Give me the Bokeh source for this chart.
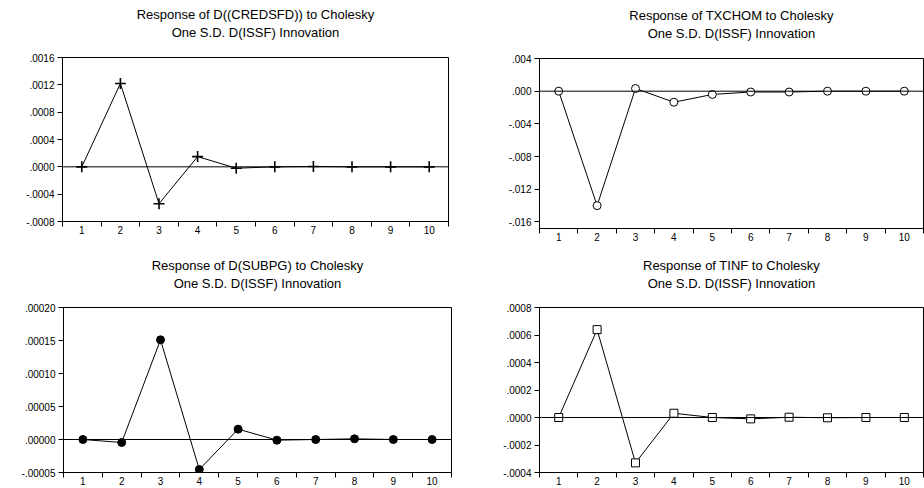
from bokeh.plotting import figure
from bokeh.layouts import column, row
from bokeh.models import FixedTicker, CustomJSTickFormatter, Span, Range1d, Title
from bokeh.embed import file_html
from bokeh.resources import INLINE

periods = [1, 2, 3, 4, 5, 6, 7, 8, 9, 10]
x_tick_labels = ["1", "2", "3", "4", "5", "6", "7", "8", "9", "10"]

# Response of D((CREDSFD))
credsfd = [0.0, 0.00122, -0.00054, 0.00015, -0.00002, 0.0, 0.000005, 0.0, 0.0, 0.0]
credsfd_ticks = [-0.0008, -0.0004, 0.0, 0.0004, 0.0008, 0.0012, 0.0016]
credsfd_labels = ["-.0008", "-.0004", ".0000", ".0004", ".0008", ".0012", ".0016"]

# Response of TXCHOM
txchom = [0.0, -0.0140, 0.00033, -0.00135, -0.0004, -0.0001, -0.0001, 0.0, 0.0, 0.0]
txchom_ticks = [-0.016, -0.012, -0.008, -0.004, 0.0, 0.004]
txchom_labels = ["-.016", "-.012", "-.008", "-.004", ".000", ".004"]

# Response of D(SUBPG)
subpg = [0.0, -0.0000045, 0.000151, -0.0000455, 0.0000157, -0.000001, 0.0, 0.000001, 0.0, 0.0]
subpg_ticks = [-0.00005, 0.0, 0.00005, 0.0001, 0.00015, 0.0002]
subpg_labels = ["-.00005", ".00000", ".00005", ".00010", ".00015", ".00020"]

# Response of TINF
tinf = [0.0, 0.000639, -0.00033, 0.000031, 0.0, -0.00001, 0.000002, -0.000002, 0.0, 0.0]
tinf_ticks = [-0.0004, -0.0002, 0.0, 0.0002, 0.0004, 0.0006, 0.0008]
tinf_labels = ["-.0004", "-.0002", ".0000", ".0002", ".0004", ".0006", ".0008"]

FONT = "Liberation Sans"

def make_panel(title1, title2, ys, yticks, ylabels, yr, marker, fill, borders, gap):
    left, right, top, bottom = borders
    p = figure(width=462, height=244, output_backend="svg", toolbar_location=None,
               x_range=Range1d(0.5, 10.5), y_range=Range1d(*yr),
               min_border_left=left, min_border_right=right,
               min_border_top=top, min_border_bottom=bottom)
    p.title = None
    # blank spacer between frame and the title lines
    p.add_layout(Title(text=" ", align="center", text_font=FONT, text_font_size="13px",
                       standoff=gap), "above")
    p.add_layout(Title(text=title2, align="center", text_font=FONT, text_font_size="13px",
                       text_font_style="normal", text_color="black", standoff=0), "above")
    p.add_layout(Title(text=title1, align="center", text_font=FONT, text_font_size="13px",
                       text_font_style="normal", text_color="black", standoff=2), "above")
    p.xgrid.visible = False
    p.ygrid.visible = False
    p.outline_line_color = "black"
    p.outline_line_width = 1
    p.background_fill_color = "white"
    p.border_fill_color = "white"

    xa = p.xaxis[0]
    xa.ticker = FixedTicker(ticks=periods, minor_ticks=[v + 0.5 for v in [0] + periods])
    xa.major_label_overrides = {v: s for v, s in zip(periods, x_tick_labels)}
    xa.major_tick_out = 0
    xa.major_tick_in = 0
    xa.minor_tick_out = 5
    xa.minor_tick_in = 0
    xa.minor_tick_line_color = "black"
    xa.axis_line_color = "black"
    xa.major_label_text_font = FONT
    xa.major_label_text_font_size = "10px"
    xa.major_label_text_color = "black"
    xa.major_label_standoff = -1

    ya = p.yaxis[0]
    ya.ticker = FixedTicker(ticks=yticks, minor_ticks=[])
    ya.formatter = CustomJSTickFormatter(args=dict(tv=yticks, tl=ylabels), code="""
        let best = 0, d = Infinity;
        for (let i = 0; i < tv.length; i++) {
            const e = Math.abs(tv[i] - tick);
            if (e < d) { d = e; best = i; }
        }
        return tl[best];
    """)
    ya.major_tick_out = 5
    ya.major_tick_in = 0
    ya.major_tick_line_color = "black"
    ya.axis_line_color = "black"
    ya.major_label_text_font = FONT
    ya.major_label_text_font_size = "10px"
    ya.major_label_text_color = "black"
    ya.major_label_standoff = 3

    p.add_layout(Span(location=0, dimension="width", line_color="black", line_width=1))
    p.line(periods, ys, line_color="black", line_width=1)
    if marker == "cross":
        p.scatter(periods, ys, marker="cross", size=11, line_color="black", line_width=1.6)
    else:
        p.scatter(periods, ys, marker=marker, size=8, line_color="black", line_width=1,
                  fill_color=fill)
    return p

p1 = make_panel("Response of D((CREDSFD)) to Cholesky", "One S.D. D(ISSF) Innovation",
                credsfd, credsfd_ticks, credsfd_labels, (-0.0008, 0.0016), "cross", None,
                (62, 14, 57, 23), 1)
p2 = make_panel("Response of TXCHOM to Cholesky", "One S.D. D(ISSF) Innovation",
                txchom, txchom_ticks, txchom_labels, (-0.0168, 0.004), "circle", "white",
                (77, 1, 58, 16), 1)
p3 = make_panel("Response of D(SUBPG) to Cholesky", "One S.D. D(ISSF) Innovation",
                subpg, subpg_ticks, subpg_labels, (-0.00005, 0.0002), "circle", "black",
                (63, 11, 63, 16), 0)
p4 = make_panel("Response of TINF to Cholesky", "One S.D. D(ISSF) Innovation",
                tinf, tinf_ticks, tinf_labels, (-0.0004, 0.0008), "square", "white",
                (77, 1, 63, 16), 0)

layout = column(row(column(p1), column(p2), spacing=0),
                row(column(p3), column(p4), spacing=0), spacing=0)
open("out.html", "w").write(file_html(layout, INLINE))
